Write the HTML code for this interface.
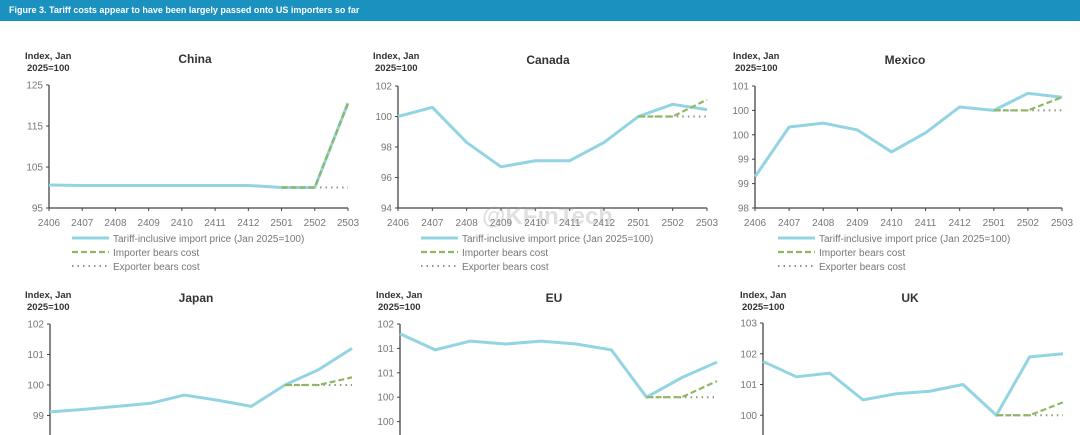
<!DOCTYPE html>
<html><head><meta charset="utf-8">
<style>
html,body{margin:0;padding:0;background:#fff;overflow:hidden;}
body{width:1080px;height:435px;overflow:hidden;position:relative;font-family:"Liberation Sans",sans-serif;}
#hdr{position:absolute;left:0;top:0;width:1080px;height:21px;background:#1b91bf;color:#fff;font-weight:bold;font-size:9px;line-height:21px;padding-left:9px;box-sizing:border-box;}
svg{position:absolute;left:0;top:0;overflow:hidden;}
</style></head>
<body>
<div id="hdr">Figure 3. Tariff costs appear to have been largely passed onto US importers so far</div>
<svg id="chart" width="1080" height="435"></svg>
<script>
const months = ["2406","2407","2408","2409","2410","2411","2412","2501","2502","2503"];
const chinaTariff = [100.6,100.5,100.5,100.5,100.5,100.5,100.5,100.0,100.0,120.6];
const chinaImporter = [100,100,120.6];
const chinaExporter = [100,100,100];
const canadaTariff = [100.0,100.6,98.3,96.7,97.1,97.1,98.3,100.0,100.8,100.45];
const canadaImporter = [100,100,101.1];
const canadaExporter = [100,100,100];
const mexicoTariff = [99.14,100.16,100.24,100.1,99.65,100.04,100.57,100.5,100.85,100.77];
const mexicoImporter = [100.5,100.5,100.77];
const mexicoExporter = [100.5,100.5,100.5];
const japanTariff = [99.12,99.2,99.3,99.4,99.67,99.5,99.3,100.0,100.5,101.2];
const japanImporter = [100,100,100.25];
const japanExporter = [100,100,100];
const euTariff = [101.3,100.97,101.15,101.09,101.15,101.09,100.97,100.0,100.4,100.72];
const euImporter = [100,100,100.33];
const euExporter = [100,100,100];
const ukTariff = [101.75,101.25,101.37,100.5,100.7,100.78,101.0,100.0,101.9,102.0];
const ukImporter = [100,100,100.42];
const ukExporter = [100,100,100];
const chinaTicks = [125,115,105,95];
const chinaTickLabels = ["125","115","105","95"];
const canadaTicks = [102,100,98,96,94];
const canadaTickLabels = ["102","100","98","96","94"];
const mexicoTicks = [101,100.5,100,99.5,99,98.5];
const mexicoTickLabels = ["101","100","100","99","99","98"];
const japanTicks = [102,101,100,99,98];
const japanTickLabels = ["102","101","100","99","98"];
const euTicks = [101.5,101,100.5,100,99.5,99];
const euTickLabels = ["102","101","101","100","100","99"];
const ukTicks = [103,102,101,100,99];
const ukTickLabels = ["103","102","101","100","99"];
const legendLabels = ["Tariff-inclusive import price (Jan 2025=100)","Importer bears cost","Exporter bears cost"];

const panels = [
 {name:"china",title:"China",x0:49,x1:348,y0:85,y1:208,ymax:125,ymin:95,t:chinaTariff,im:chinaImporter,ex:chinaExporter,ticks:chinaTicks,tl:chinaTickLabels,legend:true,titleX:195,titleY:63,labX:25,labY:59},
 {name:"canada",title:"Canada",x0:398,x1:707,y0:86,y1:208,ymax:102,ymin:94,t:canadaTariff,im:canadaImporter,ex:canadaExporter,ticks:canadaTicks,tl:canadaTickLabels,legend:true,titleX:548,titleY:64,labX:373,labY:59},
 {name:"mexico",title:"Mexico",x0:755,x1:1062,y0:86,y1:208,ymax:101,ymin:98.5,t:mexicoTariff,im:mexicoImporter,ex:mexicoExporter,ticks:mexicoTicks,tl:mexicoTickLabels,legend:true,titleX:905,titleY:64,labX:733,labY:59},
 {name:"japan",title:"Japan",x0:50,x1:352,y0:324,y1:446,ymax:102,ymin:98,t:japanTariff,im:japanImporter,ex:japanExporter,ticks:japanTicks,tl:japanTickLabels,legend:false,titleX:196,titleY:302,labX:25,labY:298},
 {name:"eu",title:"EU",x0:400,x1:717,y0:324,y1:446,ymax:101.5,ymin:99,t:euTariff,im:euImporter,ex:euExporter,ticks:euTicks,tl:euTickLabels,legend:false,titleX:554,titleY:302,labX:376,labY:298},
 {name:"uk",title:"UK",x0:763,x1:1063,y0:323,y1:446,ymax:103,ymin:99,t:ukTariff,im:ukImporter,ex:ukExporter,ticks:ukTicks,tl:ukTickLabels,legend:false,titleX:910,titleY:302,labX:740,labY:298}
];

const NS="http://www.w3.org/2000/svg";
const svg=document.getElementById('chart');
const H=435;
function mk(tag,attrs,parent){const e=document.createElementNS(NS,tag);for(const k in attrs)e.setAttribute(k,attrs[k]);(parent||svg).appendChild(e);return e;}
function txt(s,attrs,parent){const e=mk('text',attrs,parent);e.textContent=s;return e;}

panels.forEach(p=>{
 const g=mk('g',{});
 
 
 const xs=i=>p.x0+(p.x1-p.x0)*i/(months.length-1);
 const ys=v=>p.y0+(p.ymax-v)/(p.ymax-p.ymin)*(p.y1-p.y0);
 const t=txt(p.title,{x:p.titleX,y:p.titleY,'text-anchor':'middle','font-size':12,'font-weight':'bold',fill:'#333'},g);
 
 
 const l1=txt('Index, Jan',{x:p.labX,y:p.labY,'font-size':9.5,'font-weight':'bold',fill:'#333'},g);
 
 
 txt('2025=100',{x:p.labX+2,y:p.labY+12,'font-size':9.5,'font-weight':'bold',fill:'#333'},g);
 const yBot=Math.min(p.y1,H);
 const ya=mk('line',{x1:p.x0,y1:p.y0,x2:p.x0,y2:yBot,stroke:'#444','stroke-width':1.3},g);
 
 
 p.ticks.forEach((v,i)=>{
  const y=ys(v);
  if(y+4>H) return;
  mk('line',{x1:p.x0-3,y1:y,x2:p.x0,y2:y,stroke:'#444','stroke-width':1},g);
  const tl=txt(p.tl[i],{x:p.x0-6,y:y+3.5,'text-anchor':'end','font-size':10,fill:'#777'},g);
  
  
 });
 if(p.y1<H){
  const xa=mk('line',{x1:p.x0,y1:p.y1,x2:p.x1,y2:p.y1,stroke:'#444','stroke-width':1.3},g);
  
  
  months.forEach((m,i)=>{
   const x=xs(i);
   mk('line',{x1:x,y1:p.y1,x2:x,y2:p.y1+3,stroke:'#444','stroke-width':1},g);
   const xl=txt(m,{x:x,y:p.y1+18,'text-anchor':'middle','font-size':10,fill:'#777'},g);
   
   
  });
 }
 const exPts=p.ex.map((v,i)=>xs(i+7)+','+ys(v)).join(' ');
 const ex=mk('polyline',{points:exPts,fill:'none',stroke:'#8a9878','stroke-width':2,'stroke-dasharray':'1.5,4'},g);
 
 
 const tPts=p.t.map((v,i)=>xs(i)+','+ys(v)).join(' ');
 const tl=mk('polyline',{points:tPts,fill:'none',stroke:'#93d4e3','stroke-width':3,'stroke-linejoin':'round'},g);
 
 
 const imPts=p.im.map((v,i)=>xs(i+7)+','+ys(v)).join(' ');
 const im=mk('polyline',{points:imPts,fill:'none',stroke:'#8fb862','stroke-width':2.2,'stroke-dasharray':'6,3'},g);
 
 
 if(p.legend){
  const lg=mk('g',{},g);
  
  
  const lx=p.x0+23, ly=238;
  mk('line',{x1:lx,y1:ly,x2:lx+37,y2:ly,stroke:'#93d4e3','stroke-width':3},lg);
  mk('line',{x1:lx,y1:ly+14,x2:lx+37,y2:ly+14,stroke:'#8fb862','stroke-width':2.2,'stroke-dasharray':'6,3'},lg);
  mk('line',{x1:lx,y1:ly+28,x2:lx+37,y2:ly+28,stroke:'#8a9878','stroke-width':2,'stroke-dasharray':'1.5,4'},lg);
  legendLabels.forEach((s,i)=>{
   const e=txt(s,{x:lx+41,y:ly+4+14*i,'font-size':10,fill:'#777'},lg);
   
   
  });
 }
});
const wm=txt('@KFinTech',{x:482,y:224,'font-size':24,fill:'#999','fill-opacity':0.3,'font-weight':'bold'});


</script>
</body></html>
